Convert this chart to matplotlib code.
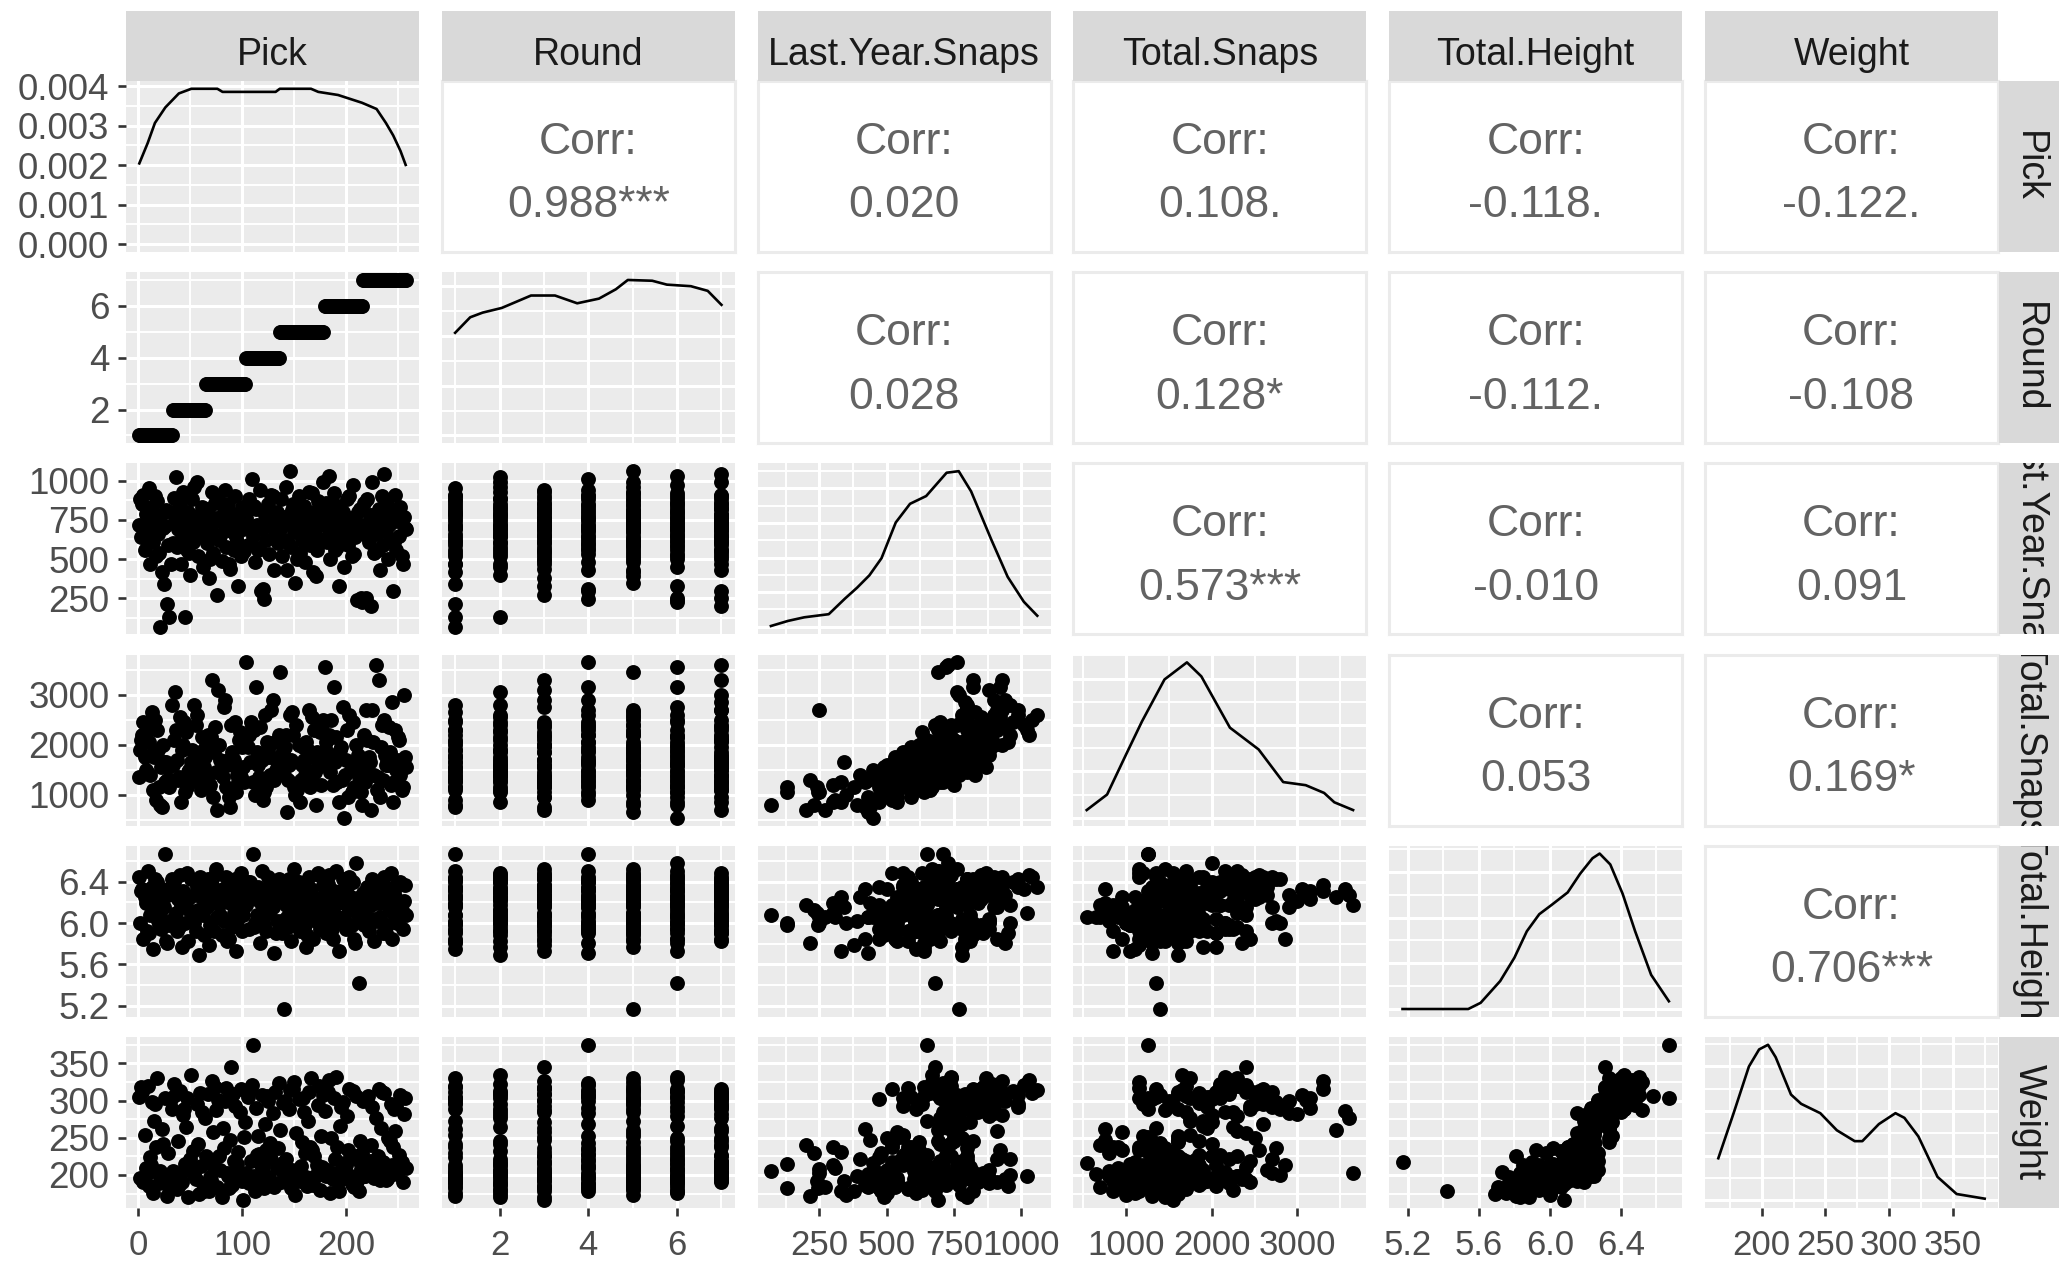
import matplotlib.pyplot as plt
import numpy as np

plt.rcParams['font.family'] = ['Liberation Sans', 'DejaVu Sans']

names = ['Pick', 'Round', 'Last.Year.Snaps', 'Total.Snaps', 'Total.Height', 'Weight']

# one entry per drafted player (first block: grouped by round, last lines: remaining picks)
pick = [1, 2, 3, 5, 6, 7, 9, 10, 11, 13, 14, 15, 17, 18, 19, 21, 22, 23, 25, 26, 28, 29, 30, 32,
        35, 36, 37, 38, 40, 41, 42, 43, 45, 46, 47, 48, 50, 51, 52, 53, 55, 56, 57, 58, 60, 61, 62, 64,
        66, 67, 68, 70, 71, 72, 73, 75, 76, 77, 78, 80, 81, 82, 84, 85, 86, 88, 89, 90, 92, 93, 94, 96, 97, 99, 101, 103,
        104, 105, 106, 108, 109, 110, 112, 113, 114, 115, 117, 118, 119, 121, 122, 123, 125, 126, 127, 129, 130, 131, 133, 134, 135,
        136, 137, 138, 140, 141, 142, 143, 145, 146, 147, 148, 150, 151, 152, 154, 155, 156, 157, 159, 160, 161, 163, 164, 165, 166, 168, 169, 170, 172, 173, 175, 176, 178,
        179, 180, 181, 183, 184, 185, 187, 188, 189, 190, 192, 193, 194, 196, 197, 198, 200, 201, 202, 204, 205, 206, 208, 209, 210, 212, 213, 215,
        218, 219, 220, 222, 223, 224, 225, 227, 228, 229, 231, 232, 233, 235, 236, 237, 239, 240, 241, 243, 244, 245, 247, 248, 249, 251, 252, 254, 255, 257,
        4, 8, 12, 16, 20, 24, 27, 31, 33, 34, 39, 44, 49, 54, 59, 63, 65, 69, 74, 79, 83, 87, 91, 95, 98, 100, 102,
        107, 111, 116, 120, 124, 128, 132, 139, 144, 149, 153, 158, 162, 167, 171, 174, 177,
        182, 186, 191, 195, 199, 203, 207, 211, 214, 216, 217, 221, 226, 230, 234, 238, 242, 246, 250, 253, 256]

rnd = [1, 1, 1, 1, 1, 1, 1, 1, 1, 1, 1, 1, 1, 1, 1, 1, 1, 1, 1, 1, 1, 1, 1, 1,
       2, 2, 2, 2, 2, 2, 2, 2, 2, 2, 2, 2, 2, 2, 2, 2, 2, 2, 2, 2, 2, 2, 2, 2,
       3, 3, 3, 3, 3, 3, 3, 3, 3, 3, 3, 3, 3, 3, 3, 3, 3, 3, 3, 3, 3, 3, 3, 3, 3, 3, 3, 3,
       4, 4, 4, 4, 4, 4, 4, 4, 4, 4, 4, 4, 4, 4, 4, 4, 4, 4, 4, 4, 4, 4, 4, 4, 4,
       5, 5, 5, 5, 5, 5, 5, 5, 5, 5, 5, 5, 5, 5, 5, 5, 5, 5, 5, 5, 5, 5, 5, 5, 5, 5, 5, 5, 5, 5, 5, 5, 5,
       6, 6, 6, 6, 6, 6, 6, 6, 6, 6, 6, 6, 6, 6, 6, 6, 6, 6, 6, 6, 6, 6, 6, 6, 6, 6, 6, 6,
       7, 7, 7, 7, 7, 7, 7, 7, 7, 7, 7, 7, 7, 7, 7, 7, 7, 7, 7, 7, 7, 7, 7, 7, 7, 7, 7, 7, 7, 7,
       1, 1, 1, 1, 1, 1, 1, 1, 2, 2, 2, 2, 2, 2, 2, 2, 3, 3, 3, 3, 3, 3, 3, 3, 3, 3, 3,
       4, 4, 4, 4, 4, 4, 4, 5, 5, 5, 5, 5, 5, 5, 5, 5, 5,
       6, 6, 6, 6, 6, 6, 6, 6, 6, 7, 7, 7, 7, 7, 7, 7, 7, 7, 7, 7, 7]

last_snaps = [720, 880, 640, 910, 560, 790, 690, 950, 470, 830, 610, 740, 520, 870, 660, 70, 780, 420, 340, 710, 215, 590, 130, 800,
              760, 1020, 580, 690, 850, 470, 640, 930, 130, 720, 560, 800, 400, 670, 880, 610, 740, 990, 520, 780, 650, 830, 450, 700,
              600, 820, 380, 710, 930, 540, 660, 760, 270, 880, 620, 490, 730, 800, 580, 700, 850, 440, 680, 770, 560, 900, 640, 330, 750, 520, 690, 810,
              760, 590, 880, 700, 1010, 650, 480, 820, 720, 560, 940, 300, 690, 245, 780, 620, 850, 530, 740, 900, 430, 670, 800, 600, 710,
              690, 880, 520, 770, 620, 960, 430, 730, 1060, 580, 810, 670, 350, 760, 900, 540, 710, 620, 840, 480, 780, 650, 930, 590, 740, 420, 800, 690, 560, 870, 630, 750, 990,
              720, 860, 610, 1030, 500, 780, 660, 920, 560, 740, 840, 330, 700, 620, 800, 450, 690, 880, 590, 760, 520, 970, 640, 730, 240, 680, 820, 230,
              700, 250, 880, 610, 780, 200, 990, 540, 730, 660, 820, 430, 760, 590, 1040, 680, 850, 500, 720, 630, 790, 300, 910, 560, 740, 650, 830, 470, 770, 690,
              850, 620, 760, 900, 540, 700, 810, 470, 600, 890, 720, 780, 540, 960, 660, 820, 740, 500, 860, 650, 940, 470, 790, 610, 710, 830, 550,
              690, 840, 570, 310, 760, 910, 640, 720, 600, 850, 500, 780, 680, 920, 390, 740, 810,
              700, 860, 580, 760, 650, 900, 530, 800, 250, 720, 860, 640, 780, 560, 900, 690, 750, 610, 820, 520, 700]

total_snaps = [1350, 1900, 2100, 2450, 1750, 1500, 2300, 2050, 1400, 2650, 1100, 1750, 900, 2300, 1900, 800, 1550, 750, 1650, 1250, 1300, 1550, 1150, 2800,
               3050, 2300, 1700, 1300, 2550, 850, 1900, 2000, 1050, 2250, 1150, 1450, 1400, 1650, 1900, 1400, 2400, 2600, 1250, 1600, 1100, 2150, 1500, 1750,
               1300, 2200, 1150, 2150, 3300, 950, 1850, 1450, 700, 3100, 2000, 1550, 1350, 2750, 1150, 1600, 1700, 750, 2400, 1850, 1700, 2450, 1050, 1250, 2100, 1350, 1550, 2000,
               3650, 1950, 2200, 2450, 2400, 1250, 1000, 3150, 1850, 1600, 2350, 1200, 1700, 1050, 2600, 1150, 1900, 1750, 1400, 2900, 1300, 2050, 1650, 1450, 2200,
               3450, 1800, 1500, 1400, 1950, 2200, 650, 1600, 2600, 1700, 2650, 1150, 1000, 2400, 2000, 850, 1300, 1600, 1700, 1400, 2050, 1900, 2700, 1150, 1750, 1250, 2300, 1450, 1850, 1550, 2250, 1200, 2500,
               3550, 2050, 1850, 2200, 1450, 2500, 1200, 3150, 1650, 2150, 1750, 850, 1900, 1300, 2750, 540, 1700, 2300, 950, 1500, 1050, 2450, 1600, 2000, 1150, 1350, 1600, 800,
               1250, 2700, 2100, 1750, 1650, 700, 2700, 1400, 3600, 1100, 3300, 950, 1950, 1300, 2500, 1800, 1650, 1600, 2350, 1200, 2850, 850, 2300, 1500, 1700, 2100, 1400, 1150, 3000, 1550,
               2200, 1450, 1800, 2500, 1150, 2000, 1650, 1300, 1600, 2100, 1350, 2450, 1500, 2800, 1850, 1550, 2000, 1200, 2350, 1700, 2900, 950, 1600, 1400, 2250, 1950, 1250,
               1650, 2300, 1350, 900, 2050, 2700, 1500, 1850, 1300, 2200, 1100, 1950, 1500, 2550, 800, 1700, 2400,
               1600, 2150, 1250, 1950, 1400, 2600, 1150, 1800, 1050, 1500, 2200, 1700, 2050, 1350, 2400, 1600, 1850, 1250, 2150, 1100, 1750]

height = [6.44, 6.00, 6.31, 5.85, 6.25, 6.19, 6.50, 5.90, 6.08, 6.35, 5.75, 6.23, 6.17, 6.40, 6.02, 6.08, 5.94, 6.33, 6.15, 6.67, 5.81, 6.27, 5.98, 6.42,
          6.33, 6.10, 5.92, 6.23, 6.46, 6.17, 5.77, 6.31, 6.00, 6.21, 6.48, 5.83, 6.25, 6.42, 6.04, 6.06, 5.92, 6.35, 6.13, 5.69, 6.25, 6.40, 6.08, 6.29,
          6.15, 6.42, 5.79, 6.00, 6.37, 6.25, 5.92, 6.52, 6.06, 6.27, 6.17, 5.88, 6.33, 6.02, 6.44, 5.83, 6.23, 6.19, 6.31, 5.96, 6.10, 6.42, 5.73, 6.25, 6.17, 6.48, 6.08, 6.35,
          6.17, 6.40, 5.94, 6.27, 6.33, 6.67, 6.00, 6.23, 6.08, 6.35, 5.81, 6.19, 6.50, 5.98, 6.31, 5.92, 6.44, 6.10, 6.25, 6.15, 5.71, 6.33, 6.02, 6.21, 6.42,
          6.25, 6.02, 5.90, 5.17, 6.31, 6.17, 6.06, 6.42, 6.35, 5.83, 6.27, 6.52, 6.00, 6.15, 6.40, 5.92, 6.08, 6.33, 6.23, 5.98, 5.77, 6.19, 6.44, 6.10, 6.33, 5.85, 6.25, 6.04, 6.17, 6.48, 5.94, 6.21, 6.37,
          6.33, 5.90, 6.17, 6.46, 6.00, 6.23, 5.85, 6.31, 6.08, 6.50, 6.19, 5.73, 6.27, 6.02, 6.42, 6.06, 5.94, 6.35, 6.15, 6.25, 5.98, 6.40, 5.81, 6.58, 6.10, 5.42, 6.25, 6.13,
          6.08, 6.00, 6.35, 5.92, 6.23, 6.17, 6.42, 5.83, 6.27, 6.02, 6.31, 6.06, 6.19, 5.90, 6.44, 6.25, 5.98, 6.33, 6.15, 6.48, 5.85, 6.10, 6.25, 6.37, 6.00, 6.17, 6.40, 5.94, 6.21, 6.08,
          6.33, 5.92, 6.17, 6.42, 6.00, 6.25, 5.83, 6.35, 6.04, 6.40, 5.96, 6.29, 6.13, 6.00, 6.44, 5.88, 6.21, 5.98, 6.46, 6.08, 6.27, 5.85, 6.37, 6.02, 6.31, 5.92, 6.19,
          6.40, 5.96, 6.23, 6.06, 6.33, 6.15, 5.90, 6.29, 5.96, 6.42, 6.10, 6.35, 5.88, 6.25, 6.02, 6.46, 6.08,
          6.38, 5.94, 6.21, 6.31, 6.00, 6.44, 5.85, 6.17, 6.06, 6.29, 5.98, 6.35, 6.04, 6.19, 6.40, 5.90, 6.23, 6.31, 6.00, 6.13, 6.37]

weight = [305, 196, 318, 190, 254, 210, 320, 185, 224, 298, 176, 272, 238, 330, 203, 205, 199, 262, 192, 303, 172, 229, 183, 288,
          307, 198, 181, 246, 313, 202, 191, 281, 215, 265, 303, 170, 222, 334, 207, 232, 195, 295, 241, 175, 212, 284, 188, 276,
          217, 309, 178, 193, 326, 258, 209, 287, 184, 301, 226, 171, 263, 236, 317, 202, 199, 247, 345, 186, 219, 293, 204, 231, 194, 315, 166, 271,
          203, 305, 189, 219, 321, 375, 178, 290, 227, 252, 194, 213, 308, 182, 268, 233, 299, 197, 243, 283, 184, 312, 211, 236, 323,
          261, 190, 205, 218, 300, 222, 201, 289, 314, 183, 207, 325, 173, 256, 302, 192, 212, 244, 285, 229, 197, 272, 311, 238, 331, 186, 225, 199, 214, 294, 180, 253, 307,
          286, 199, 206, 328, 176, 250, 194, 304, 221, 332, 191, 179, 266, 208, 298, 216, 213, 279, 234, 199, 188, 313, 226, 306, 192, 178, 245, 230,
          199, 203, 303, 201, 219, 240, 291, 196, 277, 209, 316, 193, 263, 218, 310, 204, 195, 249, 198, 296, 214, 237, 259, 293, 201, 227, 308, 190, 282, 210,
          312, 201, 214, 296, 189, 242, 195, 302, 205, 322, 186, 289, 218, 200, 310, 178, 226, 197, 318, 207, 300, 183, 309, 215, 284, 192, 251,
          314, 199, 228, 210, 306, 221, 188, 297, 194, 316, 206, 303, 185, 233, 198, 320, 211,
          311, 203, 237, 292, 196, 315, 184, 220, 208, 300, 199, 306, 214, 226, 312, 193, 246, 288, 204, 217, 304]

data = [pick, rnd, last_snaps, total_snaps, height, weight]
for d in data:
    assert len(d) == len(pick)

# correlation labels of the upper panels
corr = {(0, 1): '0.988***', (0, 2): '0.020', (0, 3): '0.108.', (0, 4): '-0.118.', (0, 5): '-0.122.',
        (1, 2): '0.028', (1, 3): '0.128*', (1, 4): '-0.112.', (1, 5): '-0.108',
        (2, 3): '0.573***', (2, 4): '-0.010', (2, 5): '0.091',
        (3, 4): '0.053', (3, 5): '0.169*',
        (4, 5): '0.706***'}

# density curves (heights relative to the peak)
pick_dens_x = [1, 9, 16, 26, 39, 51, 76, 81, 132, 136, 166, 173, 192, 215, 229, 238, 245, 252, 257]
pick_dens_r = [0.52, 0.65, 0.78, 0.88, 0.97, 1.0, 1.0, 0.98, 0.98, 1.0, 1.0, 0.98, 0.96, 0.91, 0.87, 0.78, 0.70, 0.60, 0.51]
round_dens_x = [1.0, 1.34, 1.62, 2.05, 2.71, 3.25, 3.75, 4.24, 4.62, 4.89, 5.44, 5.77, 6.31, 6.69, 7.0]
round_dens_r = [0.66, 0.76, 0.79, 0.82, 0.90, 0.90, 0.85, 0.88, 0.94, 1.0, 0.995, 0.97, 0.96, 0.93, 0.84]
lys_dens_x = [70, 134, 194, 285, 345, 390, 436, 481, 534, 587, 647, 723, 768, 814, 889, 950, 1010, 1060]
lys_dens_r = [0.004, 0.037, 0.06, 0.08, 0.18, 0.25, 0.33, 0.44, 0.67, 0.79, 0.84, 0.99, 1.0, 0.87, 0.56, 0.32, 0.16, 0.07]
ts_dens_x = [540, 778, 993, 1185, 1448, 1710, 1878, 2212, 2547, 2834, 3097, 3312, 3431, 3650]
ts_dens_r = [0.05, 0.15, 0.40, 0.62, 0.89, 1.0, 0.91, 0.58, 0.44, 0.23, 0.21, 0.16, 0.10, 0.05]
ht_dens_x = [5.17, 5.54, 5.61, 5.72, 5.80, 5.87, 5.94, 6.01, 6.10, 6.17, 6.24, 6.28, 6.34, 6.41, 6.48, 6.57, 6.67]
ht_dens_r = [0.0, 0.0, 0.04, 0.18, 0.33, 0.50, 0.61, 0.67, 0.75, 0.87, 0.97, 1.0, 0.93, 0.74, 0.50, 0.22, 0.05]
wt_dens_x = [166, 178, 190, 198, 205, 211, 223, 231, 246, 259, 273, 279, 292, 305, 312, 323, 338, 353, 375]
wt_dens_r = [0.27, 0.56, 0.86, 0.97, 1.0, 0.92, 0.68, 0.62, 0.56, 0.45, 0.38, 0.38, 0.49, 0.56, 0.53, 0.41, 0.15, 0.04, 0.01]
dens_x = [pick_dens_x, round_dens_x, lys_dens_x, ts_dens_x, ht_dens_x, wt_dens_x]
dens_r = [pick_dens_r, round_dens_r, lys_dens_r, ts_dens_r, ht_dens_r, wt_dens_r]
dens_peak = [0.00393, 0.156, 0.00225, 0.00067, 1.7, 0.0087]
dens_step = [0.001, 0.05, 0.0005, 0.0002, 0.5, 0.0025]

ticks = [[0, 100, 200], [2, 4, 6], [250, 500, 750, 1000], [1000, 2000, 3000],
         [5.2, 5.6, 6.0, 6.4], [200, 250, 300, 350]]
tick_labels = [['0', '100', '200'], ['2', '4', '6'], ['250', '500', '750', '1000'],
               ['1000', '2000', '3000'], ['5.2', '5.6', '6.0', '6.4'], ['200', '250', '300', '350']]
dens_labels = ['0.000', '0.001', '0.002', '0.003', '0.004']

W, H = 2059, 1263
fig = plt.figure(figsize=(W / 100, H / 100), dpi=100)
col_left = [126 + k * 315.8 for k in range(6)]
row_top = [81 + k * 191.2 for k in range(6)]
PW, PH = 293, 171


def box(x, y, w, h):
    return [x / W, 1 - (y + h) / H, w / W, h / H]


def limits(v):
    lo, hi = min(v), max(v)
    pad = 0.05 * (hi - lo)
    return lo - pad, hi + pad


def minors(t, lim):
    step = t[1] - t[0]
    m = [x - step / 2 for x in t] + [t[-1] + step / 2]
    return [x for x in m if lim[0] <= x <= lim[1]]


lims = [limits(d) for d in data]
tick_style = dict(length=6, width=1.9, color='#333333', labelcolor='#4D4D4D')

for i in range(6):
    for j in range(6):
        ax = fig.add_axes(box(col_left[j], row_top[i], PW, PH))
        if j > i:
            ax.set_facecolor('white')
            for s in ax.spines.values():
                s.set_color('#EBEBEB')
                s.set_linewidth(2.2)
            ax.set_xticks([])
            ax.set_yticks([])
            ax.text(0.5, 0.64, 'Corr:', transform=ax.transAxes, ha='center', va='center',
                    fontsize=32, color='#636363')
            ax.text(0.5, 0.27, corr[(i, j)], transform=ax.transAxes, ha='center', va='center',
                    fontsize=32, color='#636363')
            continue

        ax.set_facecolor('#EBEBEB')
        for s in ax.spines.values():
            s.set_visible(False)
        ax.set_xlim(lims[j])
        ax.set_xticks(ticks[j])
        ax.set_xticks(minors(ticks[j], lims[j]), minor=True)
        if i == j:
            pk = dens_peak[i]
            ax.plot(dens_x[i], np.array(dens_r[i]) * pk, color='black', lw=1.9)
            ax.set_ylim(-0.05 * pk, 1.05 * pk)
            st = dens_step[i]
            ax.set_yticks(np.arange(0, 1.05 * pk, st))
            ax.set_yticks(np.arange(st / 2, 1.05 * pk, st), minor=True)
        else:
            ax.scatter(data[j], data[i], s=115, c='black', linewidths=0)
            ax.set_ylim(lims[i])
            ax.set_yticks(ticks[i])
            ax.set_yticks(minors(ticks[i], lims[i]), minor=True)
        ax.set_axisbelow(True)
        ax.grid(which='major', color='white', lw=2.2)
        ax.grid(which='minor', color='white', lw=1.4)
        ax.tick_params(which='both', length=0, labelbottom=False, labelleft=False)

        if j == 0:
            ax.tick_params(axis='y', which='major', labelleft=True, pad=6, labelsize=26.5, **tick_style)
            ax.set_yticklabels(dens_labels if i == 0 else tick_labels[i])
        if i == 5:
            ax.tick_params(axis='x', which='major', labelbottom=True, pad=9, labelsize=25, **tick_style)
            ax.set_xticklabels(tick_labels[j])

# strips
for j in range(6):
    sax = fig.add_axes(box(col_left[j], 10.5, PW, 70.5))
    sax.set_facecolor('#D9D9D9')
    sax.set_xticks([])
    sax.set_yticks([])
    for s in sax.spines.values():
        s.set_visible(False)
    sax.text(0.5, 0.37, names[j], transform=sax.transAxes, ha='center', va='center',
             fontsize=27, color='#1A1A1A')

for i in range(6):
    sax = fig.add_axes(box(1999, row_top[i], 60, PH))
    sax.set_facecolor('#D9D9D9')
    sax.set_xticks([])
    sax.set_yticks([])
    for s in sax.spines.values():
        s.set_visible(False)
    sax.text(0.5, 0.5, names[i], transform=sax.transAxes, ha='center', va='center',
             rotation=270, fontsize=27, color='#1A1A1A', clip_on=True)

fig.savefig('out.png', dpi=100, facecolor='white')
